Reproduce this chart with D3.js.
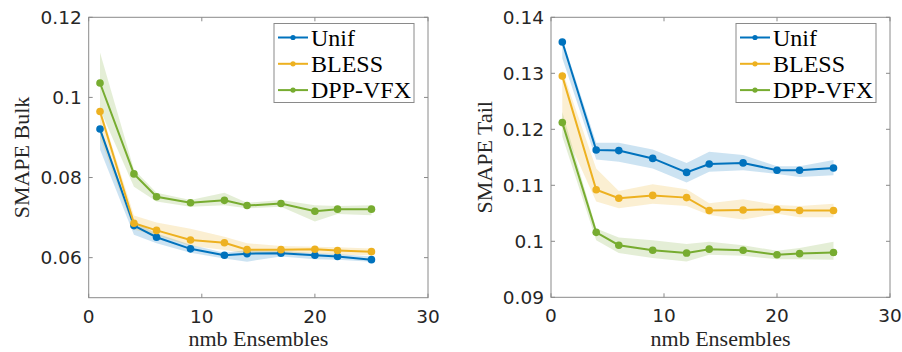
<!DOCTYPE html>
<html>
<head>
<meta charset="utf-8">
<script src="https://cdn.jsdelivr.net/npm/d3@7"></script>
<style>
  body { margin: 0; background: #fff; }
  svg { display: block; }
  .tick-label { font-family: "DejaVu Sans", sans-serif; font-size: 18.5px; fill: #262626; }
  .ax-label { font-family: "Liberation Serif", serif; font-size: 22px; fill: #262626; }
  .leg-label { font-family: "Liberation Serif", serif; font-size: 24px; fill: #000; }
</style>
</head>
<body>
<div id="chart"></div>
<script>
// data
var ensembles = [1, 4, 6, 9, 12, 14, 17, 20, 22, 25];
var methods = ["Unif", "BLESS", "DPP-VFX"];
var colors = ["#0072BD", "#EDB120", "#77AC30"];

// SMAPE Bulk
var bulkUnif    = [0.0921, 0.0680, 0.0651, 0.0622, 0.0606, 0.0610, 0.0611, 0.0606, 0.0603, 0.0595];
var bulkUnifLo  = [0.0870, 0.0657, 0.0636, 0.0612, 0.0598, 0.0590, 0.0603, 0.0596, 0.0595, 0.0590];
var bulkUnifHi  = [0.0925, 0.0690, 0.0660, 0.0632, 0.0612, 0.0619, 0.0617, 0.0611, 0.0609, 0.0603];
var bulkBless   = [0.0965, 0.0686, 0.0668, 0.0644, 0.0637, 0.0620, 0.0620, 0.0621, 0.0618, 0.0615];
var bulkBlessLo = [0.0900, 0.0670, 0.0655, 0.0630, 0.0619, 0.0611, 0.0612, 0.0611, 0.0607, 0.0606];
var bulkBlessHi = [0.0975, 0.0705, 0.0688, 0.0672, 0.0652, 0.0636, 0.0629, 0.0627, 0.0626, 0.0623];
var bulkDpp     = [0.1036, 0.0809, 0.0752, 0.0737, 0.0743, 0.0730, 0.0735, 0.0716, 0.0721, 0.0721];
var bulkDppLo   = [0.0970, 0.0777, 0.0740, 0.0727, 0.0731, 0.0723, 0.0727, 0.0690, 0.0709, 0.0706];
var bulkDppHi   = [0.1112, 0.0820, 0.0762, 0.0744, 0.0762, 0.0737, 0.0744, 0.0731, 0.0729, 0.0731];

// SMAPE Tail
var tailUnif    = [0.1356, 0.1163, 0.1162, 0.1148, 0.1123, 0.1138, 0.1140, 0.1127, 0.1127, 0.1131];
var tailUnifLo  = [0.1327, 0.1146, 0.1142, 0.1130, 0.1105, 0.1124, 0.1127, 0.1120, 0.1115, 0.1118];
var tailUnifHi  = [0.1362, 0.1176, 0.1176, 0.1164, 0.1140, 0.1160, 0.1154, 0.1134, 0.1134, 0.1145];
var tailBless   = [0.1295, 0.1092, 0.1077, 0.1082, 0.1078, 0.1055, 0.1056, 0.1057, 0.1055, 0.1055];
var tailBlessLo = [0.1205, 0.1071, 0.1059, 0.1067, 0.1063, 0.1047, 0.1039, 0.1049, 0.1043, 0.1043];
var tailBlessHi = [0.1305, 0.1130, 0.1090, 0.1102, 0.1093, 0.1068, 0.1075, 0.1065, 0.1063, 0.1067];
var tailDpp     = [0.1212, 0.1016, 0.0993, 0.0984, 0.0979, 0.0986, 0.0984, 0.0976, 0.0978, 0.0980];
var tailDppLo   = [0.1187, 0.1002, 0.0979, 0.0970, 0.0964, 0.0976, 0.0974, 0.0968, 0.0968, 0.0967];
var tailDppHi   = [0.1231, 0.1023, 0.1007, 0.1002, 0.0995, 0.0999, 0.0993, 0.0983, 0.0988, 0.0999];

var xTicks = [0, 10, 20, 30];
var bulkTicks = [0.06, 0.08, 0.1, 0.12];
var tailTicks = [0.09, 0.1, 0.11, 0.12, 0.13, 0.14];

var svg = d3.select("#chart").append("svg").attr("width", 902).attr("height", 352);

var drawPanel = function(opt) {
  var x = d3.scaleLinear().domain([0, 30]).range([opt.left, opt.right]);
  var y = d3.scaleLinear().domain(opt.ydomain).range([opt.bottom, opt.top]);
  var g = svg.append("g");
  var frame = "#8a8a8a";

  // bands first, then lines on top
  opt.series.forEach(function(s, i) {
    var rows = ensembles.map(function(e, j) { return {x: e, lo: s.lo[j], hi: s.hi[j]}; });
    var area = d3.area().x(function(d) { return x(d.x); })
      .y0(function(d) { return y(d.lo); }).y1(function(d) { return y(d.hi); });
    g.append("path").datum(rows).attr("d", area)
      .attr("fill", colors[i]).attr("fill-opacity", 0.2);
  });
  opt.series.forEach(function(s, i) {
    var rows = ensembles.map(function(e, j) { return {x: e, v: s.mean[j]}; });
    var line = d3.line().x(function(d) { return x(d.x); }).y(function(d) { return y(d.v); });
    g.append("path").datum(rows).attr("d", line)
      .attr("fill", "none").attr("stroke", colors[i]).attr("stroke-width", 2);
    g.selectAll(null).data(rows).enter().append("circle")
      .attr("cx", function(d) { return x(d.x); })
      .attr("cy", function(d) { return y(d.v); })
      .attr("r", 3.8).attr("fill", colors[i]);
  });

  // box + inward ticks on all four sides
  g.append("rect").attr("x", opt.left).attr("y", opt.top)
    .attr("width", opt.right - opt.left).attr("height", opt.bottom - opt.top)
    .attr("fill", "none").attr("stroke", frame).attr("stroke-width", 1);
  var tl = 4;
  xTicks.forEach(function(t) {
    g.append("line").attr("x1", x(t)).attr("x2", x(t)).attr("y1", opt.bottom).attr("y2", opt.bottom - tl).attr("stroke", frame);
    g.append("line").attr("x1", x(t)).attr("x2", x(t)).attr("y1", opt.top).attr("y2", opt.top + tl).attr("stroke", frame);
    g.append("text").attr("class", "tick-label").attr("x", x(t)).attr("y", opt.bottom + 25)
      .attr("text-anchor", "middle").text(t);
  });
  opt.yticks.forEach(function(t) {
    g.append("line").attr("x1", opt.left).attr("x2", opt.left + tl).attr("y1", y(t)).attr("y2", y(t)).attr("stroke", frame);
    g.append("line").attr("x1", opt.right).attr("x2", opt.right - tl).attr("y1", y(t)).attr("y2", y(t)).attr("stroke", frame);
    g.append("text").attr("class", "tick-label").attr("x", opt.left - 7).attr("y", y(t))
      .attr("dy", "0.36em").attr("text-anchor", "end").text(d3.format("~g")(t));
  });

  // axis labels
  g.append("text").attr("class", "ax-label")
    .attr("transform", "translate(" + opt.ylabelX + "," + ((opt.top + opt.bottom) / 2) + ") rotate(-90)")
    .attr("text-anchor", "middle").text(opt.ylabel);
  g.append("text").attr("class", "ax-label")
    .attr("x", (opt.left + opt.right) / 2).attr("y", 346)
    .attr("text-anchor", "middle").text("nmb Ensembles");

  // legend
  var lg = g.append("g").attr("transform", "translate(" + opt.legX + ",23.5)");
  lg.append("rect").attr("width", opt.legW).attr("height", 79)
    .attr("fill", "#fff").attr("stroke", frame).attr("stroke-width", 1);
  methods.forEach(function(m, i) {
    var yy = 14 + i * 26.3;
    lg.append("line").attr("x1", 4).attr("x2", 34).attr("y1", yy).attr("y2", yy)
      .attr("stroke", colors[i]).attr("stroke-width", 2);
    lg.append("circle").attr("cx", 19).attr("cy", yy).attr("r", 2.6).attr("fill", colors[i]);
    lg.append("text").attr("class", "leg-label").attr("x", 37).attr("y", yy + 8).text(m);
  });
};

drawPanel({
  left: 88.7, right: 428, top: 17.3, bottom: 297.7,
  ydomain: [0.05, 0.12], yticks: bulkTicks, ylabel: "SMAPE Bulk", ylabelX: 29,
  legX: 274, legW: 140,
  series: [
    {mean: bulkUnif, lo: bulkUnifLo, hi: bulkUnifHi},
    {mean: bulkBless, lo: bulkBlessLo, hi: bulkBlessHi},
    {mean: bulkDpp, lo: bulkDppLo, hi: bulkDppHi}
  ]
});

drawPanel({
  left: 551, right: 890, top: 17.3, bottom: 297.3,
  ydomain: [0.09, 0.14], yticks: tailTicks, ylabel: "SMAPE Tail", ylabelX: 492,
  legX: 736, legW: 140,
  series: [
    {mean: tailUnif, lo: tailUnifLo, hi: tailUnifHi},
    {mean: tailBless, lo: tailBlessLo, hi: tailBlessHi},
    {mean: tailDpp, lo: tailDppLo, hi: tailDppHi}
  ]
});
</script>
</body>
</html>
